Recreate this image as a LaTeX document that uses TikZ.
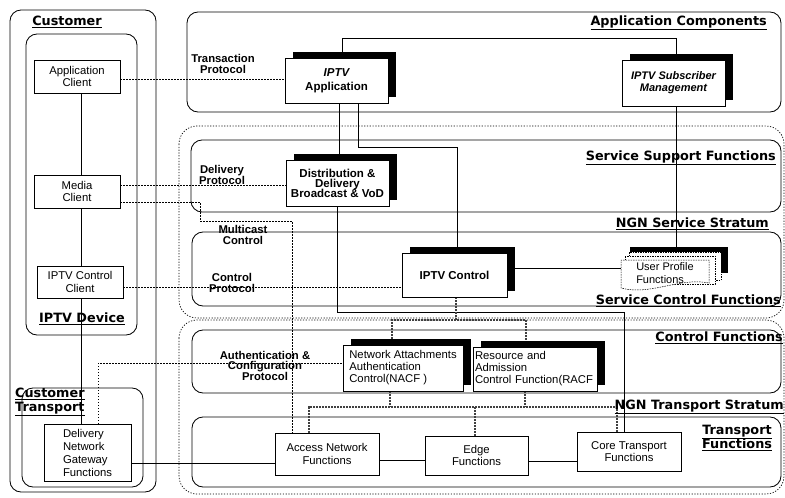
\documentclass[tikz,border=0pt]{standalone}
\usepackage{fontspec}
\setmainfont{Liberation Sans}
\newfontfamily\dejavu{DejaVu Sans}
\usetikzlibrary{shadows,backgrounds}
\newcommand{\regf}{\fontsize{11.3}{12.5}\selectfont\lineskiplimit=-20pt\relax}
\newcommand{\boldf}{\fontsize{11.3}{10.5}\selectfont\bfseries\lineskiplimit=-20pt\relax}
\newcommand{\distf}{\fontsize{11.5}{10}\selectfont\bfseries\lineskiplimit=-20pt\relax}
\newcommand{\headf}{\dejavu\fontsize{12.8}{14}\selectfont\bfseries\lineskiplimit=-20pt\relax}
\begin{document}
\begin{tikzpicture}[x=1pt,y=-1pt,
  region/.style={draw, line width=0.85pt, rounded corners=11pt},
  stratum/.style={draw, dash pattern=on 1.2pt off 1.6pt, line width=0.7pt, rounded corners=18pt},
  box/.style={draw, fill=white, line width=0.6pt, inner sep=0pt, align=center, font=\regf},
  sbox/.style={box, general shadow={fill=black, shadow xshift=7.5pt, shadow yshift=6.5pt}},
  head/.style={font=\headf, inner sep=0pt},
  proto/.style={font=\boldf, align=center, inner sep=0pt},
  conn/.style={line width=0.6pt},
  dots/.style={dash pattern=on 1.2pt off 1.8pt, line width=0.8pt},
  ctl/.style={dash pattern=on 2pt off 1pt, line width=1.1pt, draw=black!75},
  pg/.style={draw, dash pattern=on 1.5pt off 1pt, line width=0.5pt, fill=white}
]
\useasboundingbox (0,0) rectangle (785,498);

% ---------- boxes ----------
\node[box, minimum width=86pt, minimum height=33pt] (appclient) at (77,76.5) {Application\\Client};
\node[box, minimum width=86pt, minimum height=33pt] (mediaclient) at (77,191.5) {Media\\Client};
\node[box, minimum width=86pt, minimum height=32pt] (ctrlclient) at (80,282) {IPTV Control\\Client};
\node[box, minimum width=87pt, minimum height=57pt, align=left, font=\fontsize{11.3}{13}\selectfont] (dng) at (87.5,452.5) {Delivery\\Network\\Gateway\\Functions};

\node[sbox, minimum width=103pt, minimum height=45pt, font=\fontsize{11.5}{14}\selectfont\bfseries] (iptvapp) at (336.5,80.5) {\itshape IPTV\\Application};
\node[sbox, minimum width=103pt, minimum height=46pt, font=\fontsize{11}{12}\selectfont\bfseries\itshape] (subscr) at (673.5,83) {IPTV Subscriber\\Management};
\node[sbox, minimum width=103pt, minimum height=46pt, font=\distf] (distrib) at (337.5,183) {Distribution \&\\Delivery\\Broadcast \& VoD};
\node[sbox, minimum width=105pt, minimum height=44pt, font=\fontsize{11.5}{12}\selectfont\bfseries] (iptvctrl) at (454.5,275) {IPTV Control};
\node[sbox, minimum width=120pt, minimum height=46pt, align=left, font=\fontsize{11.3}{12}\selectfont] (nacf) at (403,368) {Network Attachments\\Authentication\\Control(NACF )};
\node[sbox, minimum width=124pt, minimum height=44pt, text width=120pt, align=left, font=\fontsize{11.3}{12}\selectfont] (racf) at (535,369) {Resource and\\Admission\\Control Function(RACF};

\node[box, minimum width=104pt, minimum height=42pt] (access) at (327,454) {Access Network\\Functions};
\node[box, minimum width=103pt, minimum height=39pt] (edge) at (476.5,455.5) {Edge\\Functions};
\node[box, minimum width=104pt, minimum height=39pt] (core) at (629,451.5) {Core Transport\\Functions};

% user profile functions (stacked pages)
\node[fill=black, inner sep=0pt, minimum width=98pt, minimum height=26pt] (upfsh) at (679,260) {};
\draw[pg] (629,252) rectangle (721,280);
\draw[pg] (625,256) rectangle (715,284);
\draw[pg] (621,288) -- (621,260) -- (709,260) -- (709,283) .. controls (680,277) and (650,296) .. (621,288);
\node[inner sep=0pt, minimum width=88pt, minimum height=28pt, align=left, font=\fontsize{11}{13}\selectfont] (upf) at (665,273.5) {User Profile\\Functions};

% ---------- headings ----------
\node[head] (hcust) at (67,22) {\underline{Customer}};
\node[head] (hdev) at (82,319) {\underline{IPTV Device}};
\node[head, anchor=west, align=left] (hctr) at (15,402) {\underline{Customer}\\\underline{Transport}};
\node[head, anchor=east] (happ) at (767,23) {\underline{Application Components}};
\node[head, anchor=east] (hssf) at (776,158) {\underline{Service Support Functions}};
\node[head, anchor=east] (hsvc) at (769,224) {\underline{NGN Service Stratum}};
\node[head, anchor=east] (hscf) at (781,301) {\underline{Service Control Functions}};
\node[head, anchor=east] (hcf) at (783,338) {\underline{Control Functions}};
\node[head, anchor=east] (htr) at (784,407) {\underline{NGN Transport Stratum}};
\node[head, align=center] (htf) at (737,438) {\underline{Transport}\\\underline{Functions}};

% ---------- protocol labels ----------
\node[proto] (ptrans) at (223,64) {Transaction\\Protocol};
\node[proto] (pdel) at (222,175) {Delivery\\Protocol};
\node[proto] (pmc) at (243,235) {Multicast\\Control};
\node[proto] (pctl) at (232,283) {Control\\Protocol};
\node[proto] (pauth) at (265,365.5) {Authentication \&\\Configuration\\Protocol};

\begin{scope}[on background layer]
% regions
\draw[region] (10,10) rectangle (156,492);
\draw[region] (26,34) rectangle (137,335);
\draw[region] (22,388) rectangle (143,487);
\draw[region] (187,12) rectangle (781,112);
\draw[stratum] (179,126) rectangle (784,318);
\draw[region] (191,140) rectangle (781,212);
\draw[region] (192,232) rectangle (781,306);
\draw[stratum] (179,320) rectangle (784,494);
\draw[region] (192,330) rectangle (781,393);
\draw[region] (192,417) rectangle (781,487);

% customer side
\draw[conn] (appclient.south -| 81,0) -- (mediaclient.north -| 81,0);
\draw[conn] (mediaclient.south -| 81,0) -- (ctrlclient.north -| 81,0);
\draw[conn] (ctrlclient.south -| 81,0) -- (dng.north -| 81,0);

% dotted protocol lines
\draw[dots] (appclient.east |- 0,79) -- (iptvapp.west |- 0,79);
\draw[dots] (mediaclient.east |- 0,185) -- (distrib.west |- 0,185);
\draw[dots] (mediaclient.east |- 0,202) -| (200,221) -| (access.north -| 292,0);
\draw[dots] (ctrlclient.east |- 0,287) -- (iptvctrl.west |- 0,287);
\draw[dots] (dng.north -| 98,0) |- (nacf.west |- 0,363);

% transport chain
\draw[conn] (dng.east |- 0,463) -- (access.west |- 0,463);
\draw[conn] (access.east |- 0,460) -- (edge.west |- 0,460);
\draw[conn] (edge.east |- 0,461) -- (core.west |- 0,461);

% service connections
\draw[conn] (iptvapp.north -| 342,0) |- (676,38) -- (subscr.north -| 676,0);
\draw[conn] (subscr.south -| 676,0) -- (upfsh.north -| 676,0);
\draw[conn] (iptvapp.south -| 339,0) -- (distrib.north -| 339,0);
\draw[conn] (iptvapp.south -| 358,0) |- (457,147) -- (iptvctrl.north -| 457,0);
\draw[conn] (distrib.south -| 337,0) |- (624,312) -- (core.north -| 624,0);
\draw[conn] (iptvctrl.east |- 0,268) -- (upf.west |- 0,268);

% control connections
\draw[ctl] (iptvctrl.south -| 456,0) -- (456,320);
\draw[ctl] (nacf.north -| 392,0) |- (526,320) -- (racf.north -| 526,0);
\draw[ctl] (nacf.south -| 390,0) -- (390,407);
\draw[ctl] (racf.south -| 525,0) -- (525,407);
\draw[ctl] (access.north -| 309,0) |- (617,407) -- (core.north -| 617,0);
\draw[ctl] (475,407) -- (edge.north -| 475,0);
\end{scope}
\end{tikzpicture}
\end{document}
